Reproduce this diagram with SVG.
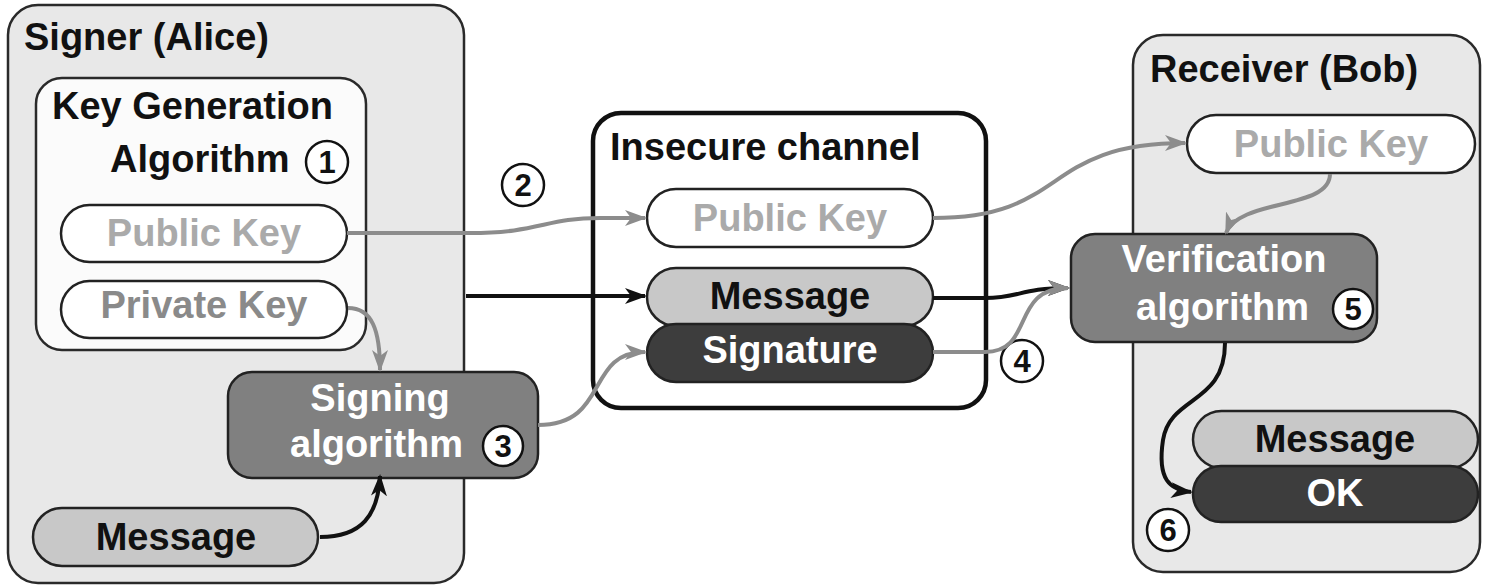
<svg xmlns="http://www.w3.org/2000/svg" width="1487" height="587" viewBox="0 0 1487 587">
<defs>
<marker id="ag" viewBox="0 0 22 16" refX="20" refY="8" markerWidth="22" markerHeight="16" markerUnits="userSpaceOnUse" orient="auto"><path d="M0,0 L22,8 L0,16 L6,8 Z" fill="#8c8c8c"/></marker>
<marker id="ab" viewBox="0 0 22 16" refX="20" refY="8" markerWidth="22" markerHeight="16" markerUnits="userSpaceOnUse" orient="auto"><path d="M0,0 L22,8 L0,16 L6,8 Z" fill="#111"/></marker>
<style>
text{font-family:"Liberation Sans",Arial,sans-serif;font-weight:bold;font-size:38px}
.box{fill:#e8e8e8;stroke:#2a2a2a;stroke-width:2.5}
.pill{fill:#fff;stroke:#222;stroke-width:2.5}
.msg{fill:#c8c8c8;stroke:#222;stroke-width:2.5}
.dark{fill:#3d3d3d;stroke:#222;stroke-width:2.5}
.alg{fill:#808080;stroke:#222;stroke-width:2.5}
.num{fill:#fff;stroke:#111;stroke-width:2.5}
.numt{font-size:31px;fill:#111;text-anchor:middle}
.g{fill:none;stroke:#8c8c8c;stroke-width:4;marker-end:url(#ag)}
.b{fill:none;stroke:#111;stroke-width:4;marker-end:url(#ab)}
.c{text-anchor:middle}
</style>
</defs>
<g id="signer">
<rect class="box" x="8" y="5" width="456" height="578" rx="30"/>
<text x="24" y="50" fill="#111">Signer (Alice)</text>
</g>
<g id="keygen">
<rect x="36" y="78" width="330" height="272" rx="26" fill="#fbfbfb" stroke="#2a2a2a" stroke-width="2.5"/>
<text x="52" y="119" fill="#111">Key Generation</text>
<text x="110" y="172" fill="#111">Algorithm</text>
<circle class="num" cx="327" cy="162" r="21"/>
<text class="numt" x="327" y="173">1</text>
</g>
<g id="pk-alice">
<rect class="pill" x="61" y="205" width="286" height="57" rx="28.5"/>
<text class="c" x="204" y="246" fill="#aaaaaa">Public Key</text>
</g>
<g id="sk-alice">
<rect class="pill" x="61" y="281" width="286" height="57" rx="28.5"/>
<text class="c" x="204" y="318" fill="#8a8a8a">Private Key</text>
</g>
<g id="signing">
<rect class="alg" x="228" y="372" width="310" height="106" rx="24"/>
<text class="c" x="380" y="411" fill="#fff">Signing</text>
<text x="290" y="457" fill="#fff">algorithm</text>
<circle class="num" cx="503" cy="446" r="20"/>
<text class="numt" x="503" y="457">3</text>
</g>
<g id="msg-alice">
<rect class="msg" x="33" y="508" width="285" height="58" rx="29"/>
<text class="c" x="176" y="550" fill="#111">Message</text>
</g>
<g id="channel">
<rect x="593" y="113" width="393" height="295" rx="28" fill="#fff" stroke="#111" stroke-width="4.5"/>
<text x="610" y="160" fill="#111">Insecure channel</text>
</g>
<g id="pk-channel">
<rect class="pill" x="647" y="189" width="286" height="58" rx="29"/>
<text class="c" x="790" y="231" fill="#aaaaaa">Public Key</text>
</g>
<g id="msg-channel">
<rect class="msg" x="647" y="268" width="286" height="58" rx="29"/>
<text class="c" x="790" y="309" fill="#111">Message</text>
</g>
<g id="sig-channel">
<rect class="dark" x="647" y="324" width="286" height="58" rx="29"/>
<text class="c" x="790" y="363" fill="#fff">Signature</text>
</g>
<g id="receiver">
<rect class="box" x="1133" y="35" width="347" height="537" rx="30"/>
<text x="1150" y="82" fill="#111">Receiver (Bob)</text>
</g>
<g id="pk-bob">
<rect class="pill" x="1187" y="115" width="288" height="58" rx="29"/>
<text class="c" x="1331" y="157" fill="#aaaaaa">Public Key</text>
</g>
<g id="verification">
<rect class="alg" x="1071" y="234" width="306" height="108" rx="24"/>
<text class="c" x="1224" y="272" fill="#fff">Verification</text>
<text x="1136" y="320" fill="#fff">algorithm</text>
<circle class="num" cx="1353" cy="309" r="20"/>
<text class="numt" x="1353" y="320">5</text>
</g>
<g id="msg-bob">
<rect class="msg" x="1193" y="411" width="285" height="57" rx="28.5"/>
<text class="c" x="1335" y="452" fill="#111">Message</text>
</g>
<g id="ok-bob">
<rect class="dark" x="1193" y="466" width="285" height="56" rx="28"/>
<text class="c" x="1335" y="506" fill="#fff">OK</text>
</g>
<g id="steps">
<circle class="num" cx="523" cy="185" r="21"/>
<text class="numt" x="523" y="196">2</text>
<circle class="num" cx="1022" cy="361" r="21"/>
<text class="numt" x="1022" y="372">4</text>
<circle class="num" cx="1168" cy="530" r="21"/>
<text class="numt" x="1168" y="541">6</text>
</g>
<g id="connectors">
<path class="g" d="M347,233 L470,233 C540,233 545,218 600,218 L645,218"/>
<path class="b" d="M466,296 L645,296"/>
<path class="g" d="M538,425 C610,425 585,352 645,352"/>
<path class="g" d="M348,308 C372,308 380,330 380,370"/>
<path class="b" d="M320,537 C362,537 378,515 380,476"/>
<path class="g" d="M933,218 C1070,218 1040,143 1185,143"/>
<path class="g" d="M1330,174 C1330,210 1240,198 1226,233"/>
<path class="b" d="M933,298 L985,298 C1020,298 1020,288 1068,288"/>
<path class="g" d="M933,352 L985,352 C1035,352 1010,288 1068,288"/>
<path class="b" d="M1225,343 C1225,405 1170,395 1163,440 C1157,480 1170,490 1191,492"/>
</g>
</svg>
